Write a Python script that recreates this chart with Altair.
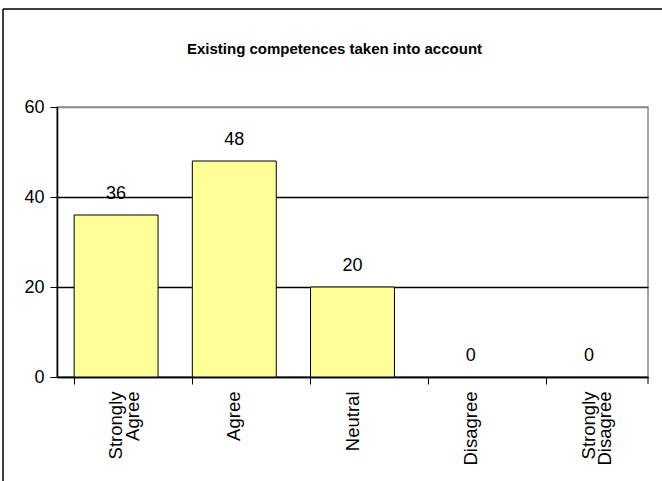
import altair as alt
import pandas as pd

# Survey responses
categories = ["Strongly Agree", "Agree", "Neutral", "Disagree", "Strongly Disagree"]
counts = [36, 48, 20, 0, 0]
y_ticks = [0, 20, 40, 60]

df = pd.DataFrame({"category": categories, "count": counts})

SANS = "Liberation Sans, Arial, sans-serif"

W, H = 591, 270
FRAME_TOP = -98  # outer frame edge, relative to the plot's top

x_enc = alt.X(
    "category:N",
    sort=categories,
    scale=alt.Scale(paddingInner=0.29, paddingOuter=0.145),
    axis=alt.Axis(
        title=None,
        labelAngle=-90,
        labelAlign="right",
        labelBaseline="middle",
        labelExpr="split(datum.value, ' ')",
        labelFont=SANS,
        labelFontSize=18.5,
        labelLineHeight=16.5,
        labelColor="black",
        labelPadding=7,
        bandPosition=0,
        ticks=True,
        tickSize=7,
        tickColor="black",
        domainColor="black",
        domainWidth=1.5,
        grid=False,
    ),
)

y_enc = alt.Y(
    "count:Q",
    scale=alt.Scale(domain=[0, 60], nice=False),
    axis=alt.Axis(
        title=None,
        values=y_ticks,
        labelFont=SANS,
        labelFontSize=18,
        labelColor="black",
        labelPadding=6,
        tickSize=7,
        tickColor="black",
        domainColor="black",
        domainWidth=1.5,
        grid=True,
        gridColor=alt.condition("datum.value == 60", alt.value("#8a8a8a"), alt.value("black")),
        gridWidth=1.5,
    ),
)

# zero-count categories get no visible bar
bars = alt.Chart(df).transform_filter("datum.count > 0").mark_bar(
    color="#ffff99", stroke="black", strokeWidth=1
).encode(x=x_enc, y=y_enc)

labels = alt.Chart(df).mark_text(
    font=SANS, fontSize=18, color="black", baseline="alphabetic", dy=-16
).encode(
    x=alt.X("category:N", sort=categories),
    y="count:Q",
    text="count:Q",
)

# closing tick at the right end of the category axis
end_tick = alt.Chart(pd.DataFrame({"k": [0]})).mark_rule(color="black", strokeWidth=1).encode(
    x=alt.value(W), y=alt.value(H), y2=alt.value(H + 7)
)

# outer chart frame (left and top edges)
frame_left = alt.Chart(pd.DataFrame({"k": [0]})).mark_rule(color="black", strokeWidth=1.5).encode(
    x=alt.value(-54), y=alt.value(FRAME_TOP), y2=alt.value(H + 110)
)
frame_top = alt.Chart(pd.DataFrame({"k": [0]})).mark_rule(color="black", strokeWidth=1.5).encode(
    x=alt.value(-54), x2=alt.value(W + 20), y=alt.value(FRAME_TOP)
)

chart = alt.layer(bars, labels, end_tick, frame_left, frame_top).properties(
    width=W,
    height=H,
    autosize=alt.AutoSizeParams(type="none"),
    padding={"left": 57, "top": 107, "right": 14, "bottom": 104},
    background="white",
    title=alt.TitleParams(
        "Existing competences taken into account",
        font=SANS,
        fontSize=15,
        fontWeight="bold",
        color="black",
        anchor="middle",
        frame="group",
        baseline="alphabetic",
        # the title sits inside the frame, below its top edge
        offset=-61,
        dx=-18,
    ),
).configure_view(stroke="#8a8a8a", strokeWidth=1.5)

chart.save("out.html", embed_options={"renderer": "svg", "actions": False})
